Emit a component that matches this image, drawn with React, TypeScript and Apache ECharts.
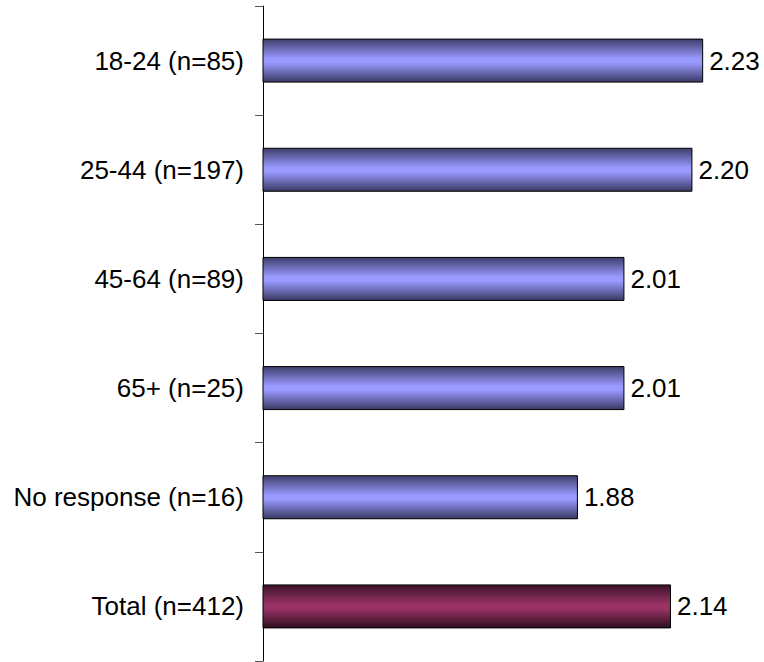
import React, { useEffect, useRef } from "react";
import * as echarts from "echarts";

const categories = [
  "18-24 (n=85)",
  "25-44 (n=197)",
  "45-64 (n=89)",
  "65+ (n=25)",
  "No response (n=16)",
  "Total (n=412)",
];
const values = [2.23, 2.2, 2.01, 2.01, 1.88, 2.14];
const totalIndex = 5;

const blueFill = new echarts.graphic.LinearGradient(0, 0, 0, 1, [
  { offset: 0, color: "#3e3e6c" },
  { offset: 0.45, color: "#9999ff" },
  { offset: 0.55, color: "#9999ff" },
  { offset: 1, color: "#393963" },
]);
const purpleFill = new echarts.graphic.LinearGradient(0, 0, 0, 1, [
  { offset: 0, color: "#3c1327" },
  { offset: 0.45, color: "#993366" },
  { offset: 0.55, color: "#993366" },
  { offset: 1, color: "#2e0e1e" },
]);

const FONT = "'Liberation Sans', Arial, sans-serif";

export default function App() {
  const ref = useRef<HTMLDivElement>(null);

  useEffect(() => {
    if (!ref.current) return;
    const chart = echarts.init(ref.current, undefined, { renderer: "svg" });
    chart.setOption({
      animation: false,
      backgroundColor: "#ffffff",
      grid: { left: 263, top: 6, right: 0, bottom: 1 },
      xAxis: {
        type: "value",
        min: 1,
        max: 2.4,
        show: false,
      },
      yAxis: {
        type: "category",
        data: categories,
        inverse: true,
        axisLine: { show: true, lineStyle: { color: "#000000", width: 1 } },
        axisTick: {
          show: true,
          length: 8,
          lineStyle: { color: "#555555", width: 1 },
        },
        axisLabel: {
          color: "#000000",
          fontSize: 26,
          fontFamily: FONT,
          margin: 19,
        },
        splitLine: { show: false },
      },
      series: [
        {
          type: "bar",
          barWidth: 44,
          data: values.map((v, i) => ({
            value: v,
            itemStyle: {
              color: i === totalIndex ? purpleFill : blueFill,
              borderColor: "#000000",
              borderWidth: 1,
            },
          })),
          label: {
            show: true,
            position: "right",
            distance: 6,
            color: "#000000",
            fontSize: 26,
            fontFamily: FONT,
            formatter: (p: any) => Number(p.value).toFixed(2),
          },
        },
      ],
    });
    return () => chart.dispose();
  }, []);

  return (
    <div
      ref={ref}
      style={{ position: "fixed", left: 0, top: 0, width: 764, height: 662 }}
    />
  );
}
